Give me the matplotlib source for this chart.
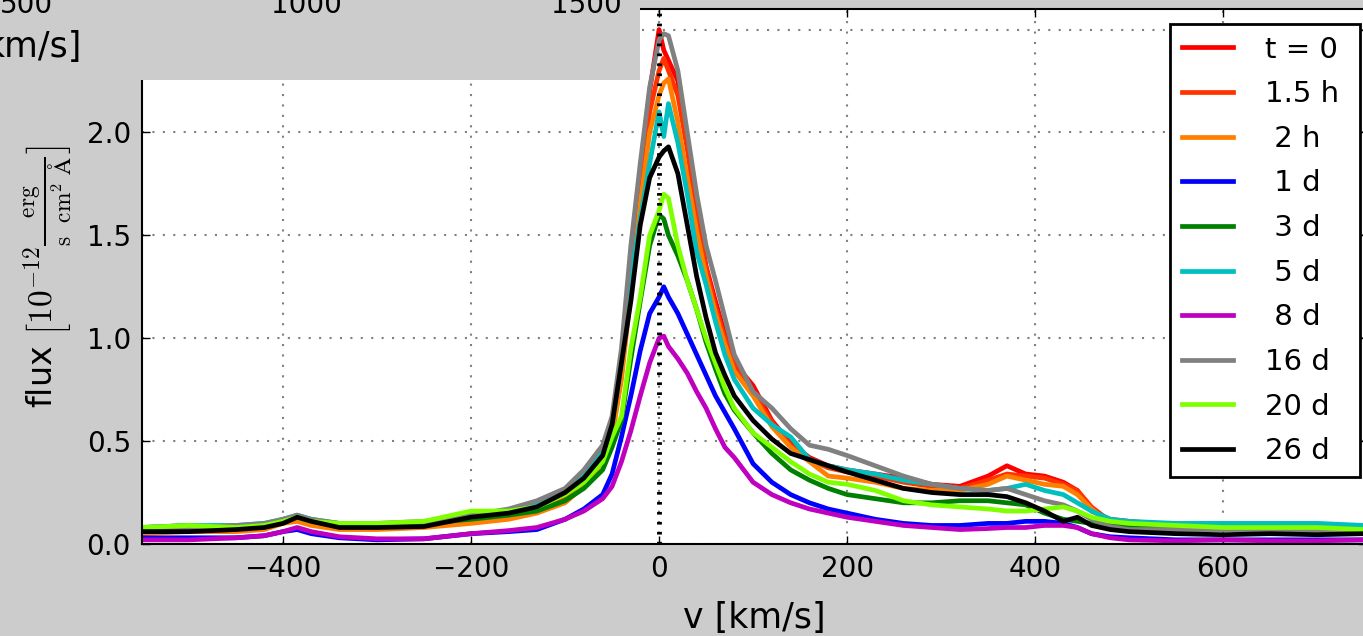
#!/usr/bin/env python3
"""
Line profile evolution: flux vs. velocity for several epochs.
"""

import numpy as np
import matplotlib.pyplot as plt
from matplotlib.patches import Rectangle

# velocity grid [km/s]
velocity = [-550, -500, -450, -420, -400, -385, -370, -340, -300, -250,
            -200, -160, -130, -100, -80, -60, -50, -40, -30, -20,
            -10, 0, 5, 10, 20, 30, 40, 50, 60, 70,
            80, 100, 120, 140, 160, 180, 200, 230, 260, 290,
            320, 350, 370, 390, 410, 430, 445, 460, 480, 500,
            550, 600, 650, 700, 750]

# flux [1e-12 erg / s cm^2 A]
flux_t0 = [0.07, 0.08, 0.08, 0.09, 0.12, 0.13, 0.11, 0.09, 0.09, 0.10,
           0.12, 0.15, 0.18, 0.24, 0.32, 0.44, 0.56, 0.85, 1.30, 1.80,
           2.20, 2.50, 2.40, 2.35, 2.25, 1.95, 1.62, 1.35, 1.18, 1.02,
           0.88, 0.77, 0.60, 0.49, 0.42, 0.38, 0.36, 0.34, 0.32, 0.29,
           0.28, 0.33, 0.38, 0.34, 0.33, 0.30, 0.26, 0.16, 0.12, 0.11,
           0.09, 0.09, 0.08, 0.08, 0.07]
flux_1h5 = [0.06, 0.07, 0.07, 0.08, 0.11, 0.12, 0.10, 0.08, 0.08, 0.09,
            0.11, 0.14, 0.17, 0.22, 0.30, 0.42, 0.54, 0.82, 1.25, 1.72,
            2.10, 2.30, 2.36, 2.30, 2.18, 1.92, 1.60, 1.34, 1.15, 1.00,
            0.87, 0.74, 0.59, 0.48, 0.41, 0.37, 0.35, 0.33, 0.30, 0.28,
            0.27, 0.31, 0.34, 0.33, 0.32, 0.29, 0.26, 0.18, 0.11, 0.10,
            0.08, 0.08, 0.07, 0.07, 0.07]
flux_2h = [0.05, 0.06, 0.06, 0.07, 0.10, 0.11, 0.09, 0.07, 0.07, 0.08,
           0.10, 0.12, 0.15, 0.20, 0.28, 0.40, 0.52, 0.80, 1.22, 1.65,
           2.00, 2.18, 2.24, 2.26, 2.05, 1.78, 1.52, 1.30, 1.12, 0.97,
           0.84, 0.72, 0.57, 0.47, 0.40, 0.33, 0.32, 0.30, 0.27, 0.26,
           0.26, 0.29, 0.33, 0.31, 0.29, 0.28, 0.24, 0.17, 0.10, 0.09,
           0.08, 0.08, 0.07, 0.07, 0.06]
flux_1d = [0.03, 0.03, 0.03, 0.04, 0.06, 0.07, 0.05, 0.03, 0.02, 0.025,
           0.05, 0.06, 0.07, 0.12, 0.17, 0.24, 0.34, 0.52, 0.72, 0.94,
           1.12, 1.20, 1.25, 1.20, 1.12, 1.02, 0.92, 0.82, 0.72, 0.64,
           0.56, 0.39, 0.30, 0.24, 0.20, 0.17, 0.15, 0.12, 0.10, 0.09,
           0.09, 0.10, 0.10, 0.11, 0.11, 0.10, 0.08, 0.05, 0.035, 0.03,
           0.02, 0.02, 0.02, 0.02, 0.02]
flux_3d = [0.08, 0.09, 0.08, 0.09, 0.11, 0.14, 0.11, 0.09, 0.09, 0.10,
           0.12, 0.14, 0.16, 0.21, 0.27, 0.36, 0.47, 0.60, 0.90, 1.18,
           1.45, 1.60, 1.58, 1.50, 1.40, 1.28, 1.14, 0.98, 0.85, 0.73,
           0.65, 0.54, 0.44, 0.36, 0.31, 0.27, 0.24, 0.22, 0.20, 0.20,
           0.21, 0.21, 0.20, 0.19, 0.15, 0.12, 0.11, 0.10, 0.09, 0.08,
           0.08, 0.08, 0.08, 0.07, 0.07]
flux_5d = [0.08, 0.09, 0.09, 0.10, 0.12, 0.14, 0.12, 0.10, 0.10, 0.10,
           0.13, 0.16, 0.19, 0.25, 0.33, 0.45, 0.58, 0.88, 1.30, 1.58,
           1.85, 2.10, 1.98, 2.14, 1.95, 1.70, 1.42, 1.26, 1.08, 0.92,
           0.80, 0.66, 0.58, 0.52, 0.41, 0.38, 0.36, 0.34, 0.31, 0.29,
           0.27, 0.26, 0.27, 0.29, 0.26, 0.24, 0.20, 0.16, 0.12, 0.11,
           0.10, 0.10, 0.10, 0.10, 0.09]
flux_8d = [0.02, 0.02, 0.03, 0.04, 0.06, 0.08, 0.06, 0.035, 0.025, 0.025,
           0.05, 0.065, 0.08, 0.12, 0.16, 0.22, 0.28, 0.40, 0.55, 0.72,
           0.88, 1.00, 1.01, 0.96, 0.90, 0.83, 0.74, 0.66, 0.56, 0.47,
           0.42, 0.30, 0.24, 0.20, 0.17, 0.15, 0.13, 0.11, 0.09, 0.08,
           0.07, 0.075, 0.08, 0.08, 0.09, 0.09, 0.08, 0.05, 0.03, 0.02,
           0.015, 0.02, 0.015, 0.015, 0.02]
flux_16d = [0.07, 0.08, 0.09, 0.10, 0.12, 0.14, 0.12, 0.10, 0.10, 0.11,
            0.14, 0.17, 0.21, 0.27, 0.36, 0.48, 0.62, 0.95, 1.45, 1.85,
            2.22, 2.45, 2.48, 2.47, 2.30, 2.00, 1.70, 1.45, 1.28, 1.10,
            0.92, 0.74, 0.66, 0.56, 0.48, 0.46, 0.43, 0.38, 0.33, 0.29,
            0.27, 0.26, 0.27, 0.24, 0.21, 0.19, 0.16, 0.12, 0.085, 0.07,
            0.07, 0.07, 0.07, 0.065, 0.06]
flux_20d = [0.08, 0.09, 0.08, 0.09, 0.11, 0.13, 0.11, 0.10, 0.10, 0.11,
            0.16, 0.16, 0.18, 0.24, 0.30, 0.40, 0.52, 0.62, 0.95, 1.20,
            1.50, 1.62, 1.70, 1.68, 1.45, 1.28, 1.14, 1.00, 0.88, 0.76,
            0.66, 0.54, 0.47, 0.40, 0.34, 0.30, 0.29, 0.26, 0.21, 0.19,
            0.18, 0.17, 0.16, 0.16, 0.17, 0.18, 0.16, 0.13, 0.11, 0.10,
            0.09, 0.08, 0.08, 0.08, 0.07]
flux_26d = [0.06, 0.06, 0.07, 0.08, 0.10, 0.13, 0.11, 0.08, 0.08, 0.085,
            0.13, 0.15, 0.18, 0.25, 0.32, 0.43, 0.58, 0.88, 1.18, 1.55,
            1.78, 1.88, 1.91, 1.93, 1.80, 1.55, 1.30, 1.10, 0.93, 0.82,
            0.72, 0.60, 0.51, 0.44, 0.41, 0.38, 0.35, 0.31, 0.27, 0.25,
            0.24, 0.24, 0.23, 0.20, 0.16, 0.11, 0.13, 0.09, 0.07, 0.06,
            0.05, 0.045, 0.05, 0.045, 0.05]

labels = ['t = 0 ', '1.5 h ', ' 2 h ', ' 1 d ', ' 3 d ', ' 5 d ', ' 8 d ',
          '16 d ', '20 d ', '26 d ']
colors = ['#ff0000', '#ff3300', '#ff8000', '#0000ff', '#008000', '#00bfbf',
          '#bf00bf', '#808080', '#7fff00', '#000000']

series = [flux_t0, flux_1h5, flux_2h, flux_1d, flux_3d, flux_5d, flux_8d,
          flux_16d, flux_20d, flux_26d]

plt.rcParams['mathtext.fontset'] = 'cm'
plt.rcParams['font.family'] = 'DejaVu Sans'

fig = plt.figure(figsize=(13.63, 6.36), dpi=100, facecolor='#cccccc')
ax = fig.add_axes([0.1042, 0.1447, 0.898, 0.8412])

v = np.array(velocity)
for flux, lab, col in zip(series, labels, colors):
    ax.plot(v, flux, color=col, lw=3.4, label=lab)

# line centre
ax.axvline(0, color='k', lw=3.5, ls=(0, (0.55, 1.5)), zorder=5)

ax.set_xlim(-550, 752)
ax.set_ylim(0, 2.6)
ax.set_xticks([-400, -200, 0, 200, 400, 600])
ax.set_yticks([0.0, 0.5, 1.0, 1.5, 2.0, 2.5])
ax.set_yticklabels(['0.0', '0.5', '1.0', '1.5', '2.0', '2.5'])
ax.grid(True, color='#808080', ls=(0, (1, 4)), lw=1.5)
ax.tick_params(direction='in', length=6, width=1, top=True, right=True,
               labelsize=20, pad=8)
for sp in ax.spines.values():
    sp.set_linewidth(1.5)

ax.set_xlabel('v [km/s]', fontsize=25, labelpad=13)
ax.set_ylabel(r'flux $\left[10^{-12}\frac{\rm erg}{\rm s\ \ cm^2\ \AA}\right]$',
              fontsize=24, labelpad=8)

leg = ax.legend(loc='upper right', bbox_to_anchor=(0.9951, 0.972),
                borderaxespad=0, fontsize=21, handlelength=1.75,
                handletextpad=1.1, labelspacing=0.57,
                fancybox=False, framealpha=1)
leg.get_frame().set_edgecolor('black')
leg.get_frame().set_linewidth(2)

# overlapping panel from the figure above (bottom strip only)
fig.patches.append(Rectangle((0, 0.8742), 0.4696, 0.13, transform=fig.transFigure,
                             facecolor='#cccccc', edgecolor='none', zorder=10))
for txt, xpix in [('500', 26), ('1000', 306), ('1500', 586)]:
    fig.text(xpix / 1363, 0.9796, txt, ha='center', va='baseline',
             fontsize=20, zorder=11)
fig.text(82 / 1363, 0.9104, 'km/s]', ha='right', va='baseline',
         fontsize=25, zorder=11)

fig.savefig('out.png', dpi=100, facecolor=fig.get_facecolor())
